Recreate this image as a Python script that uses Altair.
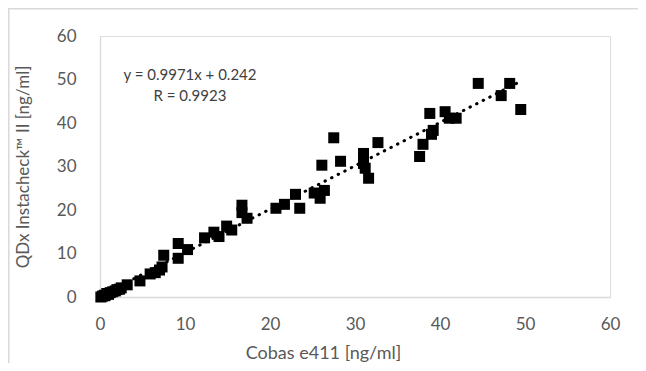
import altair as alt
import pandas as pd

cobas = [0.1, 0.3, 0.5, 0.6, 0.8, 1.0, 1.2, 1.5, 1.8, 2.0, 2.3, 2.5, 3.2,
         4.7, 5.9, 6.5, 7.0, 7.3, 7.5, 9.2, 9.2, 10.3,
         12.3, 13.4, 14.0, 14.9, 15.5, 16.7, 16.7, 17.3,
         20.7, 21.7, 23.0, 23.5, 25.2, 25.9, 26.4, 26.1, 27.5, 28.3,
         31.0, 31.0, 31.2, 31.6, 32.7, 37.6, 38.0, 39.0, 39.2, 38.8,
         40.6, 41.1, 41.9, 44.5, 47.2, 48.2, 49.5]
qdx = [0.0, 0.2, 0.4, 0.3, 0.8, 0.6, 1.0, 1.2, 1.4, 1.7, 1.8, 2.1, 2.8,
       3.7, 5.3, 5.6, 6.2, 6.9, 9.6, 8.9, 12.3, 10.9,
       13.6, 14.9, 13.9, 16.3, 15.4, 21.1, 19.4, 18.1,
       20.4, 21.3, 23.6, 20.4, 23.9, 22.7, 24.5, 30.3, 36.6, 31.2,
       33.0, 30.7, 29.6, 27.3, 35.5, 32.3, 35.1, 37.4, 38.3, 42.2,
       42.6, 41.1, 41.1, 49.1, 46.3, 49.1, 43.1]

slope = 0.9971
intercept = 0.242
trend_x = [0.1, 49.5]
equation_text = ["y = 0.9971x + 0.242", "R = 0.9923"]

x_ticks = [0, 10, 20, 30, 40, 50, 60]
y_ticks = [0, 10, 20, 30, 40, 50, 60]

df = pd.DataFrame({"x": cobas, "y": qdx})
trend = pd.DataFrame({"x": trend_x, "y": [slope * v + intercept for v in trend_x]})

FONT = "Lato"
GRAY = "#595959"

xs = alt.Scale(domain=[0, 60], nice=False)
ys = alt.Scale(domain=[0, 60], nice=False)

xaxis = alt.Axis(values=x_ticks, title="Cobas e411 [ng/ml]", grid=False, ticks=False, labelFlush=False,
                 domainColor="#d9d9d9", domainWidth=1.3, labelColor=GRAY, labelFontSize=17,
                 labelFont=FONT, labelPadding=19, titleFont=FONT, titleFontSize=18,
                 titleColor=GRAY, titleFontWeight="normal", titlePadding=12, titleX=223)
yaxis = alt.Axis(values=y_ticks, title="QDx Instacheck™ II [ng/ml]", grid=False, ticks=False,
                 domainColor="#d9d9d9", domainWidth=1.3, labelColor=GRAY, labelFontSize=17,
                 labelFont=FONT, labelPadding=24, titleFont=FONT, titleFontSize=17,
                 titleColor=GRAY, titleFontWeight="normal", titlePadding=24)

points = alt.Chart(df).mark_point(shape="square", filled=True, size=121, color="black", opacity=1).encode(
    x=alt.X("x:Q", scale=xs, axis=xaxis),
    y=alt.Y("y:Q", scale=ys, axis=yaxis),
)

line = alt.Chart(trend).mark_line(color="black", strokeWidth=3, strokeDash=[0.5, 6.9], strokeCap="round").encode(
    x=alt.X("x:Q", scale=xs, axis=xaxis),
    y=alt.Y("y:Q", scale=ys, axis=yaxis),
)

base_txt = alt.Chart(pd.DataFrame({"a": [0]}))
eq1 = base_txt.mark_text(font=FONT, fontSize=15, color="#404040", align="center", baseline="middle").encode(
    text=alt.value(equation_text[0]), x=alt.value(90), y=alt.value(39))
eq2 = base_txt.mark_text(font=FONT, fontSize=15, color="#404040", align="center", baseline="middle").encode(
    text=alt.value(equation_text[1]), x=alt.value(90), y=alt.value(60))

border_left = base_txt.mark_rule(color="#d9d9d9", strokeWidth=1.5).encode(
    x=alt.value(-91.2), y=alt.value(-28), y2=alt.value(400))
border_top = base_txt.mark_rule(color="#d9d9d9", strokeWidth=1.5).encode(
    x=alt.value(-92), x2=alt.value(700), y=alt.value(-27.2))

chart = alt.layer(border_left, border_top, line, points, eq1, eq2).properties(
    width=510, height=261,
    autosize=alt.AutoSizeParams(type="none"),
    padding={"left": 92, "top": 28, "right": 28, "bottom": 66},
).configure_view(stroke=None).configure_axis(grid=False).configure(background="white")

chart.save("out.html", embed_options={"renderer": "svg", "actions": False})
